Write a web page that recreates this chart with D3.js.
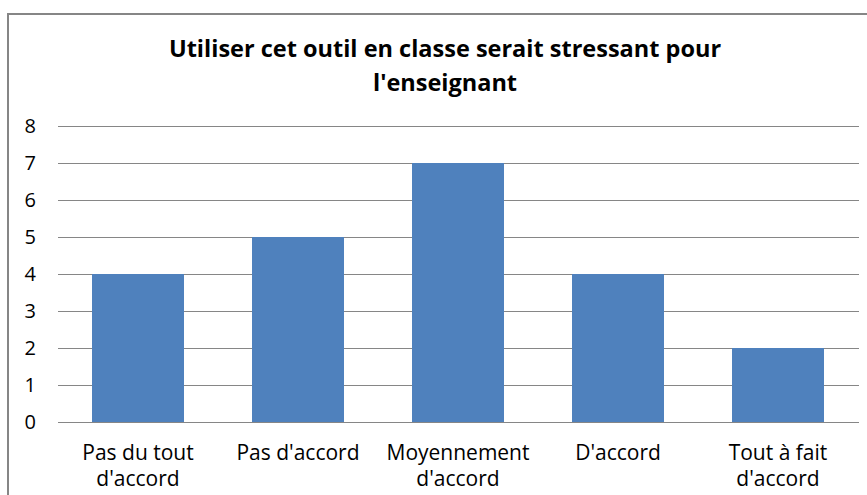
<!DOCTYPE html>
<html>
<head>
<meta charset="utf-8">
<script src="https://cdn.jsdelivr.net/npm/d3@7"></script>
<style>
  html, body { margin: 0; padding: 0; background: #fff; }
  svg { display: block; }
</style>
</head>
<body>
<svg id="chart" width="867" height="495"></svg>
<script>
// Survey responses
const categories = [
  ["Pas du tout", "d'accord"],
  ["Pas d'accord"],
  ["Moyennement", "d'accord"],
  ["D'accord"],
  ["Tout à fait", "d'accord"]
];
const values = [4, 5, 7, 4, 2];
const yTicks = [0, 1, 2, 3, 4, 5, 6, 7, 8];
const titleLines = ["Utiliser cet outil en classe serait stressant pour", "l'enseignant"];

const svg = d3.select("#chart");
const font = "'Open Sans', sans-serif";

// Chart frame
svg.append("rect")
  .attr("x", 8).attr("y", 14)
  .attr("width", 880).attr("height", 520)
  .attr("fill", "#fff")
  .attr("stroke", "#868686")
  .attr("stroke-width", 2);

const plot = { left: 58, right: 858, top: 126, bottom: 422 };

const x = d3.scaleBand()
  .domain(d3.range(categories.length))
  .range([plot.left, plot.right])
  .paddingInner(0.425)
  .paddingOuter(0.2125);

const y = d3.scaleLinear()
  .domain([0, 8])
  .range([plot.bottom, plot.top]);

// Horizontal gridlines
svg.append("g")
  .selectAll("line")
  .data(yTicks)
  .join("line")
  .attr("x1", plot.left).attr("x2", plot.right + 1)
  .attr("y1", d => Math.round(y(d)) + 0.5)
  .attr("y2", d => Math.round(y(d)) + 0.5)
  .attr("stroke", "#868686")
  .attr("stroke-width", 1);

// Y axis labels
const yAxis = d3.axisLeft(y).tickValues(yTicks).tickSize(0).tickPadding(0);
const yg = svg.append("g")
  .attr("transform", `translate(${plot.left - 22},0)`)
  .call(yAxis);
yg.select(".domain").remove();
yg.selectAll("text")
  .attr("font-family", font)
  .attr("font-size", 20)
  .attr("fill", "#000");

// Bars
svg.append("g")
  .selectAll("rect")
  .data(values)
  .join("rect")
  .attr("x", (d, i) => x(i))
  .attr("width", x.bandwidth())
  .attr("y", d => y(d))
  .attr("height", d => y(0) - y(d))
  .attr("fill", "#4F81BD");

// Category labels
const xg = svg.append("g");
categories.forEach((lines, i) => {
  const t = xg.append("text")
    .attr("x", x(i) + x.bandwidth() / 2)
    .attr("y", 460)
    .attr("text-anchor", "middle")
    .attr("font-family", font)
    .attr("font-size", 21)
    .attr("fill", "#000");
  lines.forEach((ln, k) => {
    t.append("tspan")
      .attr("x", x(i) + x.bandwidth() / 2)
      .attr("dy", k === 0 ? 0 : 26)
      .text(ln);
  });
});

// Title
const title = svg.append("text")
  .attr("text-anchor", "middle")
  .attr("font-family", font)
  .attr("font-weight", "bold")
  .attr("font-size", 23.5)
  .attr("fill", "#000");
titleLines.forEach((ln, k) => {
  title.append("tspan")
    .attr("x", 445)
    .attr("y", 57 + k * 34)
    .text(ln);
});
</script>
</body>
</html>
